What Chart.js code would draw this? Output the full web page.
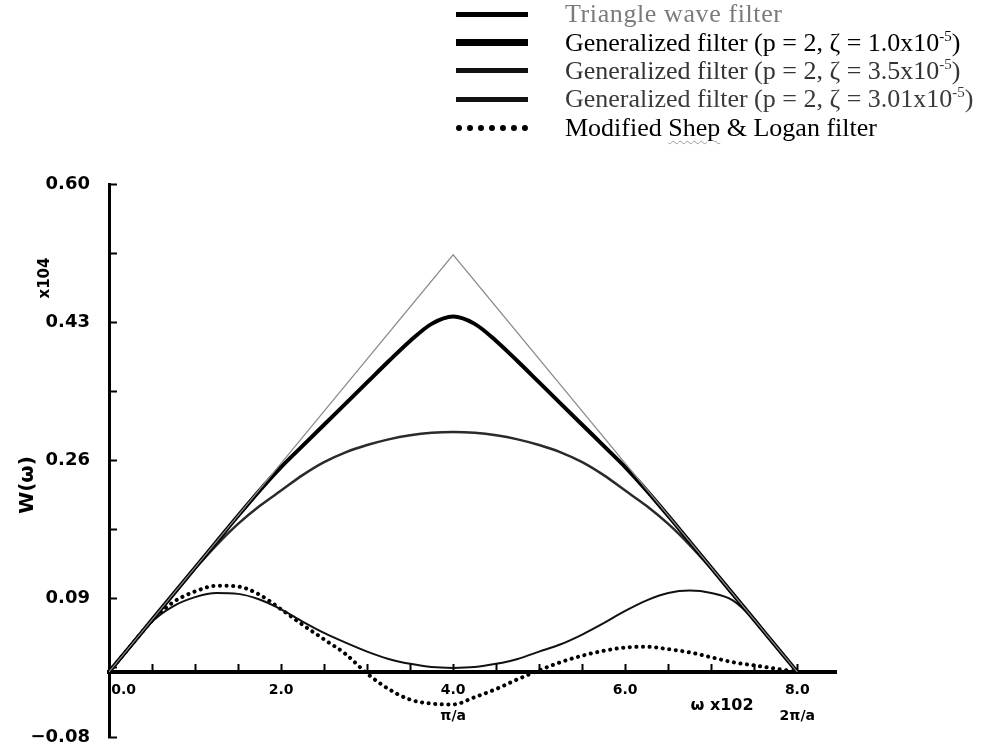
<!DOCTYPE html>
<html>
<head>
<meta charset="utf-8">
<script src="https://cdn.jsdelivr.net/npm/chart.js@4.4.1/dist/chart.umd.min.js"></script>
<style>
  body { margin: 0; background: #fff; }
  #wrap { position: relative; width: 988px; height: 749px; }
  #legend { position: absolute; left: 456px; top: 0; font-family: "Liberation Serif", serif; font-size: 26px; }
  .row { display: flex; align-items: center; height: 28.4px; white-space: nowrap; }
  .swatch { width: 72px; margin-right: 37px; }
  sup { font-size: 15px; vertical-align: 10px; line-height: 0; }
  .squiggle { text-decoration: underline wavy #999 1px; text-underline-offset: 4px; }
</style>
</head>
<body>
<div id="wrap">
  <canvas id="chart" width="988" height="749"></canvas>
  <div id="legend"></div>
</div>
<script>
// omega (x10^2) sample points
const omega = [0, 0.25, 0.5, 0.75, 1, 1.25, 1.5, 1.75, 2, 2.25, 2.5, 2.75, 3, 3.25, 3.5, 3.75, 4,
  4.25, 4.5, 4.75, 5, 5.25, 5.5, 5.75, 6, 6.25, 6.5, 6.75, 7, 7.25, 7.5, 7.75, 8];

// triangle wave filter, corners only
const triOmega = [0, 4, 8];
const triW = [0, 0.513, 0];

// generalized filter p = 2, zeta = 1.0e-5
const gen10 = [0, 0.032, 0.064, 0.096, 0.128, 0.160, 0.192, 0.223, 0.252, 0.278, 0.304, 0.330, 0.356, 0.382, 0.407, 0.428, 0.437,
  0.428, 0.407, 0.382, 0.356, 0.330, 0.304, 0.278, 0.252, 0.223, 0.192, 0.160, 0.128, 0.096, 0.064, 0.032, 0];

// generalized filter p = 2, zeta = 3.5e-5
const gen35 = [0, 0.032, 0.064, 0.096, 0.127, 0.156, 0.182, 0.204, 0.223, 0.242, 0.258, 0.270, 0.279, 0.286, 0.291, 0.294, 0.295,
  0.294, 0.291, 0.286, 0.279, 0.270, 0.258, 0.242, 0.223, 0.204, 0.182, 0.156, 0.127, 0.096, 0.064, 0.032, 0];

// generalized filter p = 2, zeta = 3.01e-5
const gen301 = [0, 0.032, 0.062, 0.081, 0.092, 0.097, 0.096, 0.089, 0.077, 0.062, 0.048, 0.036, 0.025, 0.016, 0.010, 0.006, 0.005,
  0.006, 0.010, 0.016, 0.025, 0.034, 0.046, 0.060, 0.075, 0.088, 0.097, 0.100, 0.097, 0.088, 0.064, 0.032, 0];

// modified Shepp & Logan filter
const shepLogan = [0, 0.032, 0.063, 0.086, 0.099, 0.106, 0.105, 0.095, 0.077, 0.058, 0.040, 0.022, -0.002, -0.021, -0.034, -0.039, -0.040,
  -0.031, -0.021, -0.009, 0.002, 0.012, 0.020, 0.026, 0.030, 0.031, 0.028, 0.024, 0.018, 0.012, 0.008, 0.004, 0];

const seriesLabels = [
  'Triangle wave filter',
  'Generalized filter (p = 2, ζ = 1.0x10<sup>-5</sup>)',
  'Generalized filter (p = 2, ζ = 3.5x10<sup>-5</sup>)',
  'Generalized filter (p = 2, ζ = 3.01x10<sup>-5</sup>)',
  'Modified <span class="squiggle">Shep</span> &amp; Logan filter',
];

const yMajor = [-0.08, 0.09, 0.26, 0.43, 0.60];
const yTickLabels = ['\u22120.08', '0.09', '0.26', '0.43', '0.60'];
const yTickValues = [-0.08, 0.005, 0.09, 0.175, 0.26, 0.345, 0.43, 0.515, 0.60];

const xTickValues = [0, 0.5, 1, 1.5, 2, 2.5, 3, 3.5, 4, 4.5, 5, 5.5, 6, 6.5, 7, 7.5, 8];
const xMajor = [0, 2, 4, 6, 8];
const xTickLabels = [['\u2007\u2007\u20070.0'], ['2.0'], ['4.0', 'π/a'], ['6.0'], ['8.0', '2π/a']];

const pts = (xs, ys) => xs.map((x, i) => ({ x: x, y: ys[i] }));
const plain = (s) => s.replace(/<[^>]+>/g, '').replace('&amp;', '&');

const axisText = {
  id: 'axisText',
  afterDraw(chart) {
    const ctx = chart.ctx;
    ctx.save();
    ctx.fillStyle = '#000';
    ctx.textAlign = 'center';
    ctx.textBaseline = 'middle';
    ctx.font = 'bold 20px "DejaVu Sans"';
    ctx.save();
    ctx.translate(28, 485);
    ctx.rotate(-Math.PI / 2);
    ctx.fillText('W(ω)', 0, 0);
    ctx.restore();
    ctx.font = 'bold 15px "DejaVu Sans"';
    ctx.save();
    ctx.translate(45, 278);
    ctx.rotate(-Math.PI / 2);
    ctx.fillText('x104', 0, 0);
    ctx.restore();
    ctx.font = 'bold 16px "DejaVu Sans"';
    ctx.fillText('ω x102', 722, 706);
    ctx.restore();
  }
};

const chart = new Chart(document.getElementById('chart'), {
  type: 'line',
  data: {
    datasets: [
      { label: plain(seriesLabels[0]), data: pts(triOmega, triW), borderColor: '#8c8c8c', borderWidth: 1.2, tension: 0 },
      { label: plain(seriesLabels[1]), data: pts(omega, gen10), borderColor: '#000', borderWidth: 4, cubicInterpolationMode: 'monotone' },
      { label: plain(seriesLabels[2]), data: pts(omega, gen35), borderColor: '#2a2a2a', borderWidth: 2.5, cubicInterpolationMode: 'monotone' },
      { label: plain(seriesLabels[3]), data: pts(omega, gen301), borderColor: '#111', borderWidth: 2, cubicInterpolationMode: 'monotone' },
      { label: plain(seriesLabels[4]), data: pts(omega, shepLogan), borderColor: '#000', borderWidth: 4,
        borderDash: [0.1, 6.5], borderCapStyle: 'round', cubicInterpolationMode: 'monotone' },
    ],
  },
  options: {
    responsive: false,
    animation: false,
    layout: { padding: { top: 184, bottom: 12, left: 0, right: 152 } },
    elements: { point: { radius: 0 } },
    plugins: { legend: { display: false }, tooltip: { enabled: false } },
    scales: {
      x: {
        type: 'linear',
        min: 0,
        max: 8.45,
        position: { y: 0 },
        afterFit: (s) => { s.height = 0; },
        afterBuildTicks: (s) => { s.ticks = xTickValues.map((v) => ({ value: v })); },
        border: { color: '#000', width: 4 },
        grid: { drawOnChartArea: false, tickLength: -10, tickColor: '#000', tickWidth: 2 },
        ticks: {
          autoSkip: false,
          maxRotation: 0,
          padding: 15,
          color: '#000',
          font: { family: 'DejaVu Sans', weight: 'bold', size: 14, lineHeight: '26px' },
          callback: (v) => {
            const i = xMajor.indexOf(v);
            return i < 0 ? '' : xTickLabels[i];
          },
        },
      },
      y: {
        min: -0.08,
        max: 0.60,
        afterFit: (s) => { s.width = 109; s.paddingTop = 0; s.paddingBottom = 0; },
        afterBuildTicks: (s) => { s.ticks = yTickValues.map((v) => ({ value: v })); },
        border: { color: '#000', width: 3 },
        grid: { drawOnChartArea: false, tickLength: -8, tickColor: '#000', tickWidth: 2 },
        ticks: {
          autoSkip: false,
          padding: 27,
          color: '#000',
          font: { family: 'DejaVu Sans', weight: 'bold', size: 18 },
          callback: (v) => {
            const i = yMajor.findIndex((m) => Math.abs(m - v) < 1e-6);
            return i < 0 ? '' : yTickLabels[i];
          },
        },
      },
    },
  },
  plugins: [axisText],
});

// legend above the plot, one row per series
const swatchStyle = ['5px solid #000', '7px solid #000', '5px solid #111', '5px solid #111', '6px dotted #000'];
const textColor = ['#7a7a7a', '#000', '#333', '#3a3a3a', '#000'];
const textSpacing = ['0.6px', '0', '0', '0', '0'];
document.getElementById('legend').innerHTML = seriesLabels.map((lab, i) =>
  '<div class="row"><div class="swatch" style="border-top:' + swatchStyle[i] + '"></div>' +
  '<span style="color:' + textColor[i] + ';letter-spacing:' + textSpacing[i] + '">' + lab + '</span></div>').join('');
</script>
</body>
</html>
